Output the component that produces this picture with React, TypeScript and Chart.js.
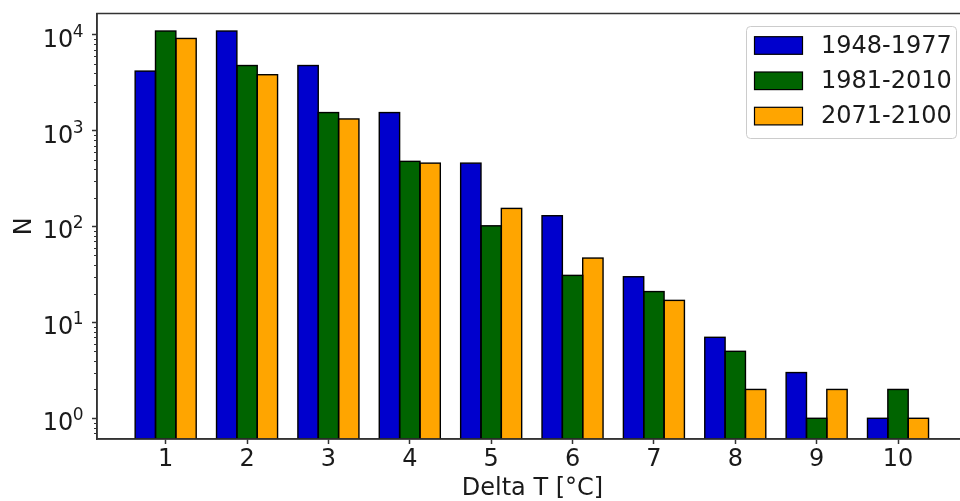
import React, { useEffect, useRef } from 'react';
import { Chart, registerables } from 'chart.js';

Chart.register(...registerables);

// ---- data ----
const categories = [1, 2, 3, 4, 5, 6, 7, 8, 9, 10];
const seriesLabels = ['1948-1977', '1981-2010', '2071-2100'];
const values1948 = [4200, 11000, 4800, 1550, 460, 130, 30, 7, 3, 1];
const values1981 = [11000, 4800, 1550, 480, 102, 31, 21, 5, 1, 2];
const values2071 = [9200, 3850, 1330, 460, 155, 47, 17, 2, 2, 1];
const seriesColors = ['#0000cd', '#006400', '#ffa500'];
const yMajorTicks = [1, 10, 100, 1000, 10000];
const yTickBase = '10';
const yTickExponents = ['0', '1', '2', '3', '4'];
const xAxisTitle = 'Delta T [°C]';
const yAxisTitle = 'N';

const FONT = 'DejaVu Sans';
const TEXT = '#1a1a1a';
const SPINE = '#333333';

const barOutlinePlugin = {
  id: 'barOutline',
  afterDatasetsDraw(chart: any) {
    const { ctx, chartArea } = chart;
    ctx.save();
    ctx.beginPath();
    ctx.rect(chartArea.left, chartArea.top, chartArea.right - chartArea.left, chartArea.bottom - chartArea.top);
    ctx.clip();
    ctx.strokeStyle = '#000000';
    ctx.lineWidth = 1.4;
    chart.data.datasets.forEach((_: any, di: number) => {
      const meta = chart.getDatasetMeta(di);
      meta.data.forEach((el: any) => {
        const { x, y, base, width } = el.getProps(['x', 'y', 'base', 'width'], true);
        ctx.strokeRect(x - width / 2, y, width, base - y);
      });
    });
    ctx.restore();
  },
};

const spinePlugin = {
  id: 'spines',
  afterDatasetsDraw(chart: any) {
    const { ctx, chartArea } = chart;
    ctx.save();
    ctx.strokeStyle = SPINE;
    ctx.lineWidth = 1.5;
    ctx.strokeRect(chartArea.left, chartArea.top, chartArea.right - chartArea.left, chartArea.bottom - chartArea.top);
    ctx.restore();
  },
};

const yAxisDecorPlugin = {
  id: 'yAxisDecor',
  afterDraw(chart: any) {
    const { ctx, chartArea } = chart;
    const y = chart.scales.y;
    ctx.save();
    // minor ticks
    ctx.strokeStyle = SPINE;
    ctx.lineWidth = 1;
    for (let d = -1; d <= 4; d++) {
      for (let m = 2; m <= 9; m++) {
        const v = m * Math.pow(10, d);
        if (v < y.min || v > y.max) continue;
        const py = Math.round(y.getPixelForValue(v)) + 0.5;
        ctx.beginPath();
        ctx.moveTo(chartArea.left - 3, py);
        ctx.lineTo(chartArea.left, py);
        ctx.stroke();
      }
    }
    // major tick labels in mathtext style (base + raised exponent)
    ctx.fillStyle = TEXT;
    ctx.textAlign = 'right';
    ctx.textBaseline = 'alphabetic';
    const right = chartArea.left - 13.5;
    yMajorTicks.forEach((v, i) => {
      const py = y.getPixelForValue(v);
      ctx.font = `17px "${FONT}"`;
      const expW = ctx.measureText(yTickExponents[i]).width;
      ctx.fillText(yTickExponents[i], right, py + 1.7);
      ctx.font = `24px "${FONT}"`;
      ctx.fillText(yTickBase, right - expW + 0.5, py + 11.7);
    });
    ctx.restore();
  },
};

const legendPlugin = {
  id: 'mplLegend',
  afterDraw(chart: any) {
    const { ctx, chartArea } = chart;
    const boxW = 210;
    const boxH = 112;
    const x0 = chartArea.right - 12 - boxW;
    const y0 = chartArea.top + 12.5;
    ctx.save();
    ctx.beginPath();
    ctx.roundRect(x0 + 0.5, y0 + 0.5, boxW, boxH, 4);
    ctx.fillStyle = 'rgba(255,255,255,0.8)';
    ctx.fill();
    ctx.strokeStyle = '#cccccc';
    ctx.lineWidth = 1;
    ctx.stroke();
    chart.data.datasets.forEach((ds: any, i: number) => {
      const cy = y0 + 19.5 + i * 35.3;
      ctx.fillStyle = ds.backgroundColor;
      ctx.fillRect(x0 + 8.5, cy - 8.8, 48, 17.6);
      ctx.strokeStyle = '#000';
      ctx.lineWidth = 1.2;
      ctx.strokeRect(x0 + 8.5, cy - 8.8, 48, 17.6);
      ctx.fillStyle = TEXT;
      ctx.font = `24px "${FONT}"`;
      ctx.textBaseline = 'middle';
      ctx.textAlign = 'left';
      ctx.fillText(ds.label, x0 + 75, cy + 1);
    });
    ctx.restore();
  },
};

export default function App() {
  const ref = useRef<HTMLCanvasElement>(null);

  useEffect(() => {
    document.body.style.margin = '0';
    const seriesValues = [values1948, values1981, values2071];
    const chart = new Chart(ref.current as HTMLCanvasElement, {
      type: 'bar',
      data: {
        datasets: seriesLabels.map((label, si) => ({
          label,
          data: categories.map((c, i) => ({ x: c, y: seriesValues[si][i] })),
          backgroundColor: seriesColors[si],
          borderWidth: 0,
          categoryPercentage: 0.75,
          barPercentage: 1,
        })),
      },
      options: {
        animation: false,
        responsive: true,
        maintainAspectRatio: false,
        layout: { padding: { top: 13.5, right: 2, bottom: 0, left: 0 } },
        plugins: { legend: { display: false }, tooltip: { enabled: false } },
        scales: {
          x: {
            type: 'linear',
            min: 0.156,
            max: 10.86,
            offset: false,
            bounds: 'data',
            grid: { offset: false, drawOnChartArea: false, drawTicks: true, tickLength: 5, tickColor: SPINE, tickWidth: 1.5 },
            border: { display: true, color: SPINE, width: 1.5 },
            ticks: {
              font: { family: FONT, size: 24 },
              color: TEXT,
              padding: 1,
              autoSkip: false,
              maxRotation: 0,
              callback: (v: any) => String(v),
            },
            afterBuildTicks: (s: any) => {
              s.ticks = categories.map((v) => ({ value: v }));
            },
            afterFit: (s: any) => {
              s.height = 62;
              s.paddingLeft = 0;
              s.paddingRight = 0;
            },
            title: {
              display: true,
              text: xAxisTitle,
              color: TEXT,
              font: { family: FONT, size: 24, lineHeight: 1 },
              padding: { top: 0, bottom: 0 },
            },
          },
          y: {
            type: 'logarithmic',
            min: 0.608,
            max: 16760,
            bounds: 'data',
            grid: { offset: false, drawOnChartArea: false, drawTicks: true, tickLength: 5, tickColor: SPINE, tickWidth: 1.5 },
            border: { display: true, color: SPINE, width: 1.5 },
            ticks: {
              display: false,
              autoSkip: false,
            },
            afterBuildTicks: (s: any) => {
              s.ticks = yMajorTicks.map((v) => ({ value: v, major: true }));
            },
            afterFit: (s: any) => {
              s.width = 97;
              s.paddingTop = 0;
              s.paddingBottom = 0;
            },
            title: {
              display: true,
              text: yAxisTitle,
              color: TEXT,
              font: { family: FONT, size: 24, lineHeight: 1 },
              padding: { top: 13, bottom: 0 },
            },
          },
        },
      },
      plugins: [barOutlinePlugin, spinePlugin, yAxisDecorPlugin, legendPlugin],
    } as any);
    return () => chart.destroy();
  }, []);

  return (
    <div style={{ width: 960, height: 501, overflow: 'hidden', position: 'relative', background: '#fff' }}>
      <div style={{ width: 970, height: 501, position: 'relative' }}>
        <canvas ref={ref} />
      </div>
    </div>
  );
}
